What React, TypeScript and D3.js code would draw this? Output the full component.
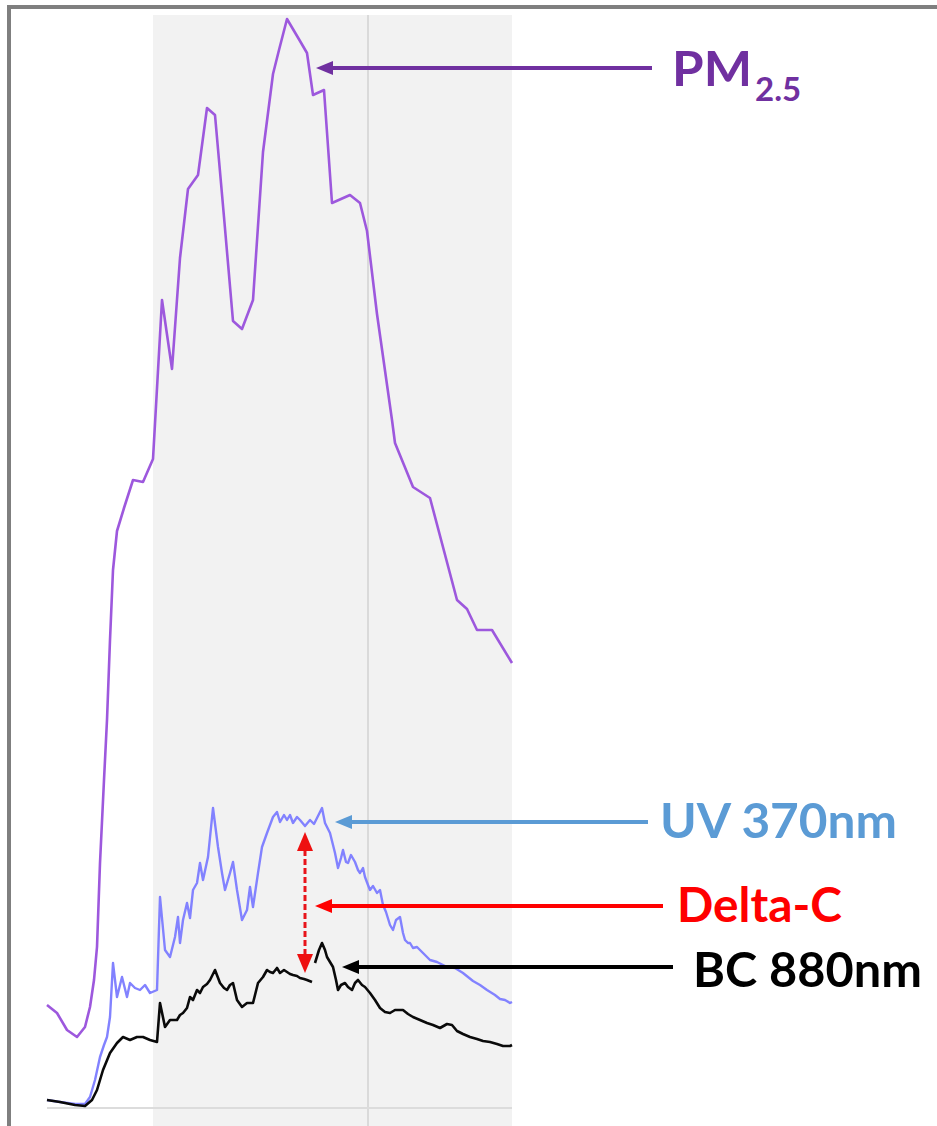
import React from "react";
import * as d3 from "d3";

const W = 937;
const H = 1126;

// Time axis: minutes since start of record. Values: mass concentration (µg/m³).
const pm25: [number, number][] = [
  [0, 10.3], [10, 9.5], [20, 7.8], [30, 7.1], [38, 8.1], [43, 10.1], [47, 12.8],
  [50, 16.1], [53, 24.5], [57, 32.8], [60, 38.8], [63, 46.8], [66, 53.8], [70, 57.7],
  [77, 60.0], [86, 62.8], [96, 62.6], [106, 64.9], [115, 80.8], [125, 73.9],
  [133, 85.0], [141, 91.9], [151, 93.3], [160, 100.0], [168, 99.3], [177, 89.1],
  [186, 78.7], [195, 77.9], [206, 80.8], [216, 95.6], [226, 103.4], [232, 105.8],
  [240, 108.9], [253, 106.7], [260, 105.5], [266, 101.3], [277, 101.8], [285, 90.5],
  [303, 91.3], [313, 90.5], [320, 87.7], [330, 79.4], [345, 68.8], [348, 66.5],
  [366, 62.1], [383, 61.0], [410, 50.8], [420, 49.9], [430, 47.8], [445, 47.8],
  [465, 44.5],
];

const uv370: [number, number][] = [
  [0, 0.8], [13, 0.6], [28, 0.4], [38, 0.4], [43, 1.1], [48, 2.8], [53, 5.1], [57, 6.3],
  [60, 7.1], [63, 9.1], [66, 14.5], [70, 11.1], [75, 13.1], [80, 11.1], [83, 12.5],
  [88, 12.0], [93, 11.8], [98, 12.3], [103, 11.5], [110, 11.8], [113, 21.1], [118, 15.8],
  [123, 15.1], [128, 17.1], [131, 19.1], [133, 16.5], [136, 18.8], [140, 20.5],
  [143, 19.0], [146, 21.8], [150, 22.5], [153, 24.5], [156, 22.8], [161, 25.1],
  [166, 30.0], [171, 26.1], [175, 23.5], [178, 21.8], [183, 23.5], [186, 24.6],
  [190, 21.8], [195, 18.8], [200, 19.8], [203, 22.1], [206, 20.1], [211, 23.5],
  [215, 26.1], [220, 27.5], [226, 29.1], [230, 29.6], [233, 28.6], [237, 29.3],
  [240, 28.8], [243, 29.3], [246, 28.5], [250, 29.1], [253, 28.8], [258, 28.2],
  [263, 28.8], [267, 28.4], [270, 29.0], [275, 30.0], [278, 28.5], [283, 27.5],
  [286, 26.3], [288, 25.5], [291, 24.0], [294, 25.0], [296, 25.8], [299, 24.6],
  [301, 24.5], [304, 25.3], [308, 24.6], [311, 23.8], [313, 23.5], [316, 24.0],
  [318, 23.1], [321, 22.3], [323, 21.8], [326, 22.2], [330, 21.5], [333, 21.8],
  [336, 20.3], [339, 19.6], [343, 18.3], [346, 17.8], [349, 18.8], [353, 19.1],
  [356, 17.5], [358, 16.8], [361, 16.5], [363, 16.5], [366, 16.0], [370, 16.1],
  [376, 15.5], [383, 14.8], [390, 14.6], [400, 14.1], [408, 14.0], [416, 13.5],
  [426, 12.7], [433, 12.3], [440, 11.8], [448, 11.3], [453, 10.9], [458, 10.8],
  [463, 10.5], [465, 10.6],
];

// null marks a break in the BC record
const bc880: ([number, number] | null)[] = [
  [0, 0.8], [13, 0.6], [28, 0.3], [38, 0.2], [45, 0.8], [50, 1.8], [56, 3.8], [63, 5.5],
  [70, 6.5], [76, 7.1], [83, 6.8], [90, 7.1], [96, 7.1], [103, 6.8], [110, 6.6],
  [113, 10.5], [118, 8.1], [123, 8.8], [130, 8.8], [133, 9.3], [136, 9.5], [140, 10.0],
  [143, 11.1], [146, 10.8], [150, 11.8], [153, 11.5], [156, 12.1], [160, 12.4],
  [163, 12.8], [168, 13.8], [173, 12.5], [177, 12.0], [180, 11.8], [183, 12.3],
  [186, 12.5], [190, 10.8], [195, 10.1], [200, 10.5], [206, 10.5], [211, 12.5],
  [216, 13.1], [220, 13.8], [223, 13.6], [226, 13.5], [230, 14.0], [233, 13.5],
  [237, 13.8], [240, 13.6], [243, 13.4], [246, 13.3], [250, 13.2], [253, 13.0],
  [257, 12.9], [260, 12.8], [265, 12.6],
  null,
  [268, 14.5], [272, 15.8], [275, 16.5], [278, 15.8], [280, 15.1], [283, 14.6],
  [286, 14.1], [289, 12.8], [291, 11.8], [294, 12.3], [298, 12.5], [301, 12.1],
  [305, 11.8], [308, 12.5], [311, 12.8], [315, 12.3], [318, 12.1], [323, 11.5],
  [328, 10.8], [333, 10.0], [338, 9.6], [343, 9.5], [348, 9.8], [356, 9.8],
  [361, 9.4], [366, 9.1], [373, 8.8], [380, 8.5], [386, 8.3], [393, 8.0], [400, 8.4],
  [405, 8.3], [410, 7.7], [416, 7.4], [423, 7.1], [430, 6.9], [436, 6.7], [443, 6.6],
  [450, 6.4], [456, 6.2], [463, 6.2], [465, 6.3],
];

// Shaded period and vertical gridline (minutes)
const shadedPeriod: [number, number] = [106, 465];
const gridMinutes = [321];

// Delta-C between UV and BC at one moment
const deltaC = { t: 258, low: 13.5, high: 27.6 };

const annotations = [
  { id: "pm", text: "PM", sub: "2.5", color: "#7030a0", t: 269, v: 104.0, lineEnd: 652, textX: 672, baseline: 86, len: 80 },
  { id: "uv", text: "UV 370nm", color: "#5b9bd5", t: 288, v: 28.6, lineEnd: 648, textX: 660, baseline: 838, len: 237 },
  { id: "dc", text: "Delta-C", color: "#ff0000", t: 268, v: 20.2, lineEnd: 663, textX: 677, baseline: 922, len: 165 },
  { id: "bc", text: "BC 880nm", color: "#000000", t: 295, v: 14.1, lineEnd: 673, textX: 693, baseline: 987, len: 229 },
];

const x = d3.scaleLinear().domain([0, 465]).range([47, 512]);
const y = d3.scaleLinear().domain([0, 110]).range([1108, 8]);

const line = d3
  .line<[number, number] | null>()
  .defined((d) => d !== null)
  .x((d) => x((d as [number, number])[0]))
  .y((d) => y((d as [number, number])[1]));

const FONT = "Lato, 'Open Sans', Arial, sans-serif";

function Arrow({ tipX, tipY, endX, color }: { tipX: number; tipY: number; endX: number; color: string }) {
  const headLen = 17;
  const half = 7;
  return (
    <g>
      <line x1={tipX + headLen - 2} y1={tipY} x2={endX} y2={tipY} stroke={color} strokeWidth={4} />
      <path d={`M${tipX},${tipY}L${tipX + headLen},${tipY - half}L${tipX + headLen},${tipY + half}Z`} fill={color} />
    </g>
  );
}

export default function App() {
  const dx = x(deltaC.t);
  const dTop = y(deltaC.high);
  const dBot = y(deltaC.low);
  const head = 19;
  const half = 8;
  return (
    <svg
      width={W}
      height={H}
      viewBox={`0 0 ${W} ${H}`}
      style={{ position: "absolute", left: 0, top: 0, background: "#ffffff" }}
    >
      {/* shaded period */}
      <rect
        x={x(shadedPeriod[0])}
        y={15}
        width={x(shadedPeriod[1]) - x(shadedPeriod[0])}
        height={H - 15}
        fill="#f2f2f2"
      />
      {gridMinutes.map((g) => (
        <line key={g} x1={x(g)} x2={x(g)} y1={15} y2={H} stroke="#dadada" strokeWidth={2} />
      ))}
      {/* baseline */}
      <line x1={x(0)} x2={x(465)} y1={y(0)} y2={y(0)} stroke="#dcdcdc" strokeWidth={2} />

      {/* series */}
      <path d={line(pm25) ?? ""} fill="none" stroke="#9d58dd" strokeWidth={2.6} strokeLinejoin="round" />
      <path d={line(uv370) ?? ""} fill="none" stroke="#8282ff" strokeWidth={2.4} strokeLinejoin="round" />
      <path d={line(bc880) ?? ""} fill="none" stroke="#0a0a0a" strokeWidth={2.6} strokeLinejoin="round" />

      {/* Delta-C double arrow */}
      <line x1={dx} x2={dx} y1={dTop + head - 1} y2={dBot - head + 1} stroke="#e8141a" strokeWidth={3} strokeDasharray="6,3" />
      <path d={`M${dx},${dTop}L${dx - half},${dTop + head}L${dx + half},${dTop + head}Z`} fill="#ee1010" />
      <path d={`M${dx},${dBot}L${dx - half},${dBot - head}L${dx + half},${dBot - head}Z`} fill="#ee1010" />

      {/* annotations */}
      {annotations.map((a) => (
        <g key={a.id}>
          <Arrow tipX={x(a.t)} tipY={y(a.v)} endX={a.lineEnd} color={a.color} />
          <text
            x={a.textX}
            y={a.baseline}
            fill={a.color}
            fontFamily={FONT}
            fontWeight={700}
            fontSize={48}
            textLength={a.len}
            lengthAdjust="spacingAndGlyphs"
          >
            {a.text}
          </text>
          {a.sub && (
            <text
              x={a.textX + a.len + 3}
              y={a.baseline + 15}
              fill={a.color}
              fontFamily={FONT}
              fontWeight={700}
              fontSize={33}
            >
              {a.sub}
            </text>
          )}
        </g>
      ))}

      {/* frame */}
      <line x1={7} x2={W} y1={7} y2={7} stroke="#7f7f7f" strokeWidth={4} />
      <line x1={9} x2={9} y1={5} y2={H} stroke="#7f7f7f" strokeWidth={4} />
    </svg>
  );
}
